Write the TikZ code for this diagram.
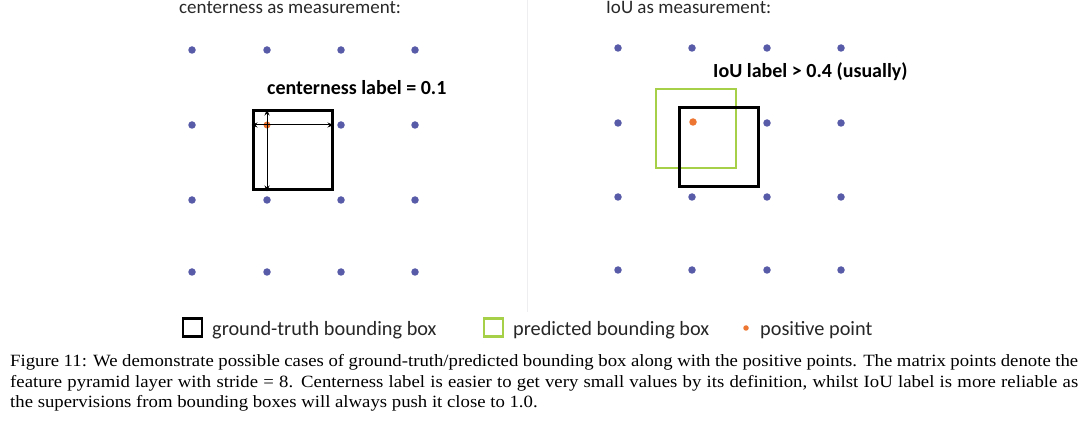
\documentclass[tikz,border=0pt]{standalone}
\usepackage{fontspec}
\setmainfont{Liberation Serif}
\newfontfamily\carl{Carlito}
\newfontfamily\timesf[FakeStretch=1.09]{Liberation Serif}
\usetikzlibrary{arrows.meta}
\definecolor{dotblue}{RGB}{88,92,168}
\definecolor{posorange}{RGB}{237,118,50}
\definecolor{predgreen}{RGB}{165,208,72}
\definecolor{titlegray}{RGB}{40,40,40}
\definecolor{sepgray}{RGB}{238,238,240}
\tikzset{
  gridpt/.style={circle,fill=dotblue,inner sep=0pt,minimum size=7.5pt},
  pospt/.style={circle,fill=posorange,inner sep=0pt,minimum size=7.5pt},
  gtbox/.style={draw=black,line width=3pt,inner sep=0pt},
  predbox/.style={draw=predgreen,line width=2.5pt,inner sep=0pt},
  titletext/.style={anchor=base west,inner sep=0pt,text=titlegray,font=\carl\fontsize{19}{22}\selectfont},
  labeltext/.style={anchor=base west,inner sep=0pt,font=\carl\bfseries\fontsize{20}{23}\selectfont},
  legendtext/.style={anchor=base west,inner sep=0pt,text=black!85,font=\carl\fontsize{20.3}{23}\selectfont},
  measarrow/.style={-{Stealth[length=6pt,width=5pt]},line width=1pt},
}
\begin{document}
\begin{tikzpicture}[x=1pt,y=-1pt]
\useasboundingbox (0,0) rectangle (1080,422);
% separator
\coordinate (septop) at (527,0);
\coordinate (sepbot) at (527,312);
\draw[sepgray,line width=1pt] (septop) -- (sepbot);
% titles
\node[titletext] (t1) at (179,14) {centerness as measurement:};
\node[titletext] (t2) at (606,14) {IoU as measurement:};
% left grid
\foreach \i/\x in {1/192,2/267,3/341,4/415}{
  \foreach \j/\y in {1/50,2/125,3/200,4/272}{
    \ifnum\i=2 \ifnum\j=2 \else \node[gridpt] (L\i\j) at (\x,\y) {};\fi
    \else \node[gridpt] (L\i\j) at (\x,\y) {};\fi
  }
}
% right grid
\foreach \i/\x in {1/618,2/692,3/767,4/841}{
  \foreach \j/\y in {1/48,2/123,3/197,4/270}{
    \ifnum\i=2 \ifnum\j=2 \else \node[gridpt] (R\i\j) at (\x,\y) {};\fi
    \else \node[gridpt] (R\i\j) at (\x,\y) {};\fi
  }
}
% left: ground truth box with arrows
\node[gtbox,minimum width=79pt,minimum height=79pt] (gtL) at (292.5,150.5) {};
\node[pospt,minimum size=7pt] (pL) at (267,125) {};
\draw[measarrow] (pL.center) -- (pL.center -| gtL.west);
\draw[measarrow] (pL.center) -- (pL.center -| gtL.east);
\draw[measarrow] (pL.center) -- (pL.center |- gtL.north);
\draw[measarrow] (pL.center) -- (pL.center |- gtL.south);
\node[labeltext] (labL) at (267,95) {centerness label = 0.1};
% right: predicted and ground truth
\node[predbox,minimum width=80pt,minimum height=79pt] (predR) at (696,128.5) {};
\node[gtbox,minimum width=79pt,minimum height=79pt] (gtR) at (718.5,147.5) {};
\node[pospt] (pR) at (693,122) {};
\node[labeltext] (labR) at (713,78) {IoU label > 0.4 (usually)};
% legend
\node[gtbox,line width=2.6pt,minimum width=19pt,minimum height=18pt] (lgGT) at (192.5,327.5) {};
\node[legendtext] (lgGTt) at (212,335) {ground-truth bounding box};
\node[predbox,line width=2.2pt,minimum width=19pt,minimum height=18pt] (lgP) at (493.5,327.5) {};
\node[legendtext] (lgPt) at (513,335) {predicted bounding box};
\node[pospt,minimum size=5.5pt] (lgO) at (746,328) {};
\node[legendtext] (lgOt) at (760,335) {positive point};
% caption
\node[anchor=north west,inner sep=0pt,text=black,align=justify] (cap) at (10,354) {\parbox[t]{1068pt}{\timesf\fontsize{17.2}{20.8}\selectfont\parindent=0pt
Figure 11: We demonstrate possible cases of ground-truth/predicted bounding box along with the positive points. The matrix points denote the\linebreak
feature pyramid layer with stride = 8. Centerness label is easier to get very small values by its definition, whilst IoU label is more reliable as\linebreak
the supervisions from bounding boxes will always push it close to 1.0.}};
\end{tikzpicture}
\end{document}
